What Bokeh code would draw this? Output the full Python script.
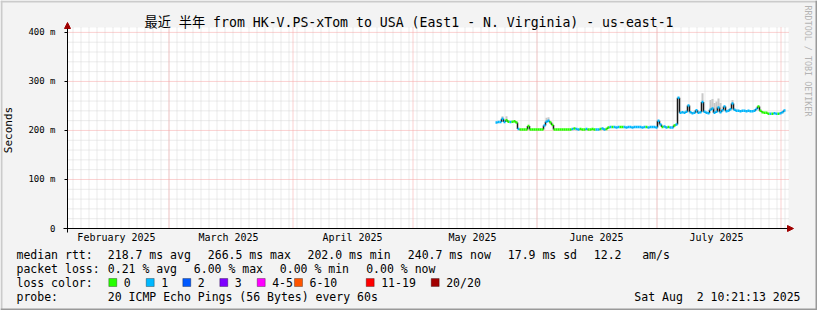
import math
import pandas as pd
from bokeh.plotting import figure
from bokeh.models import (FixedTicker, DatetimeTickFormatter, Label, BoxAnnotation,
                          Arrow, NormalHead, ColumnDataSource, Range1d)
from bokeh.embed import file_html
from bokeh.resources import INLINE

# ---------------- data ----------------
TITLE = "最近 半年 from HK-V.PS-xTom to USA (East1 - N. Virginia) - us-east-1"
series_start = "2025-05-22 00:00"   # first median sample, one sample every 12 h
median_ms = [
    # May 22-31
    216, 217, 217, 224, 217, 221, 218, 217, 218, 219,
    216, 203, 202, 202, 202, 202, 209, 202, 202, 202,
    # Jun 1-10
    202, 202, 202, 202, 210, 218, 220, 216, 211, 202,
    202, 202, 202, 202, 202, 202, 202, 202, 203, 204,
    # Jun 11-20
    203, 202, 203, 202, 202, 203, 202, 202, 203, 202,
    202, 202, 203, 204, 202, 203, 206, 207, 207, 207,
    # Jun 21-30
    206, 207, 207, 207, 207, 206, 207, 207, 206, 207,
    207, 207, 207, 206, 207, 207, 206, 207, 207, 207,
    # Jul 1-10
    206, 220, 212, 207, 208, 206, 207, 206, 206, 210,
    212, 266.5, 236, 237, 236, 238, 251, 237, 235, 236,
    # Jul 11-20
    241, 236, 237, 258, 238, 236, 235, 242, 245, 236,
    238, 247, 237, 241, 249, 239, 240, 243, 255, 242,
    # Jul 21-31
    240, 240, 239, 240, 240, 239, 240, 239, 239, 240,
    244, 249, 240, 237, 236, 236, 234, 234, 234, 235,
    234, 234,
    # Aug 1-2
    235, 237, 240.7,
]
loss_count = [
    1, 1, 1, 1, 1, 0, 0, 1, 0, 0, 0, 1, 0, 0, 0, 0, 0, 0, 0, 0,
    0, 0, 0, 0, 1, 1, 1, 0, 0, 0, 0, 0, 0, 0, 0, 0, 0, 0, 1, 0,
    1, 1, 0, 0, 0, 1, 0, 0, 0, 0, 1, 1, 0, 1, 1, 0, 0, 1, 0, 1,
    1, 1, 0, 0, 1, 1, 1, 1, 1, 1, 1, 1, 1, 1, 1, 0, 1, 1, 1, 1,
    1, 1, 1, 0, 1, 1, 0, 1, 1, 0, 1, 1, 1, 1, 1, 1, 1, 1, 1, 1,
    1, 1, 1, 1, 1, 1, 1, 1, 1, 1, 1, 1, 1, 1, 1, 1, 1, 1, 1, 1,
    1, 1, 1, 1, 1, 1, 1, 1, 1, 1, 1, 0, 0, 0, 0, 0, 0, 1, 0, 1,
    1, 0,
    1, 1, 1,
]
smoke_times = ["2025-05-23 12:00", "2025-05-24 12:00", "2025-06-03 12:00", "2025-06-04 00:00",
               "2025-07-12 12:00", "2025-07-14 12:00", "2025-07-15 00:00", "2025-07-15 12:00",
               "2025-07-16 00:00", "2025-07-16 12:00", "2025-07-17 00:00", "2025-07-20 00:00"]
smoke_top = [229, 229, 226, 227, 276, 262, 264, 256, 259, 265, 256, 262]

plot_start = "2025-02-03 18:00"
plot_end = "2025-08-03 00:00"
y_top = 410
month_starts = ["2025-03-01", "2025-04-01", "2025-05-01", "2025-06-01", "2025-07-01", "2025-08-01"]
month_label_days = ["2025-02-16", "2025-03-16", "2025-04-16", "2025-05-16", "2025-06-16", "2025-07-16"]
y_ticks = [0, 100, 200, 300, 400]
y_tick_labels = ["0", "100 m", "200 m", "300 m", "400 m"]
y_minor_step = 20
x_minor_anchor = "2025-03-01"
x_minor_step_days = 2

loss_labels = ["0", "1", "2", "3", "4-5", "6-10", "11-19", "20/20"]
loss_colors = ["#26ff00", "#00b8ff", "#0059ff", "#7e00ff", "#ff00ff", "#ff5500", "#ff0000", "#a10000"]
rtt_stats = ["218.7 ms avg", "266.5 ms max", "202.0 ms min", "240.7 ms now", "17.9 ms sd", "12.2", "am/s"]
loss_stats = ["0.21 % avg", "6.00 % max", "0.00 % min", "0.00 % now"]
probe_text = "20 ICMP Echo Pings (56 Bytes) every 60s"
stamp_text = "Sat Aug\u00a0\u00a02 10:21:13 2025"
watermark = "RRDTOOL / TOBI OETIKER"

# ---------------- layout constants ----------------
W, H = 817, 310
FL, FR, FT, FB = 67, 788, 27, 228   # plotting-area edges in canvas pixels
MONO = "DejaVu Sans Mono"


def ms(t):
    return pd.Timestamp(t).value / 1e6


# the frame covers the whole canvas; the plotting area is a part of it
t0, t1 = pd.Timestamp(plot_start), pd.Timestamp(plot_end)
span = t1 - t0
px_t = span / (FR - FL)                     # time per pixel
canvas_t0 = t0 - px_t * FL
canvas_t1 = t1 + px_t * (W - FR)
k = (FB - FT) / y_top                       # pixels per ms of rtt
canvas_y0 = -(H - FB) / k
canvas_y1 = y_top + FT / k


# annotation screen units: measured from the canvas bottom-left corner
def X(px):
    return px


def Y(py):
    return H - py


def loss_index(n):
    if n <= 3:
        return n
    if n <= 5:
        return 4
    if n <= 10:
        return 5
    if n <= 19:
        return 6
    return 7


# ---------------- figure ----------------
p = figure(width=W, height=H, x_axis_type="datetime",
           x_range=Range1d(canvas_t0, canvas_t1), y_range=Range1d(canvas_y0, canvas_y1),
           output_backend="svg", toolbar_location=None, min_border=0,
           background_fill_color="#f3f3f3", border_fill_color="#f3f3f3", outline_line_color=None)
p.xgrid.visible = False
p.ygrid.visible = False

# white plotting canvas
p.add_layout(BoxAnnotation(left=ms(t0), right=ms(t1), bottom=0, top=y_top,
                           fill_color="white", fill_alpha=1, line_color=None, level="image"))

# axes, fixed at the plotting area's edges
p.xaxis.fixed_location = 0
p.xaxis.bounds = (ms(t0 - pd.Timedelta(days=1)), ms(t1))
p.xaxis.ticker = FixedTicker(ticks=[ms(d) for d in month_label_days])
p.xaxis.formatter = DatetimeTickFormatter(years="%B %Y", months="%B %Y", days="%B %Y",
                                          hours="%B %Y", minutes="%B %Y")
p.xaxis.major_tick_line_color = None
p.xaxis.minor_tick_line_color = None
p.xaxis.major_tick_out = 0
p.xaxis.major_tick_in = 0
p.xaxis.major_label_standoff = 3
p.xaxis.major_label_text_font = MONO
p.xaxis.major_label_text_font_size = "10px"
p.xaxis.major_label_text_color = "black"
p.xaxis.axis_line_color = "black"

p.yaxis.fixed_location = ms(t0)
p.yaxis.bounds = (-8, y_top)
p.yaxis.ticker = FixedTicker(ticks=y_ticks)
p.yaxis.major_label_overrides = {t: s for t, s in zip(y_ticks, y_tick_labels)}
p.yaxis.major_tick_out = 3
p.yaxis.major_tick_in = 0
p.yaxis.major_tick_line_color = "black"
p.yaxis.minor_tick_line_color = None
p.yaxis.major_label_standoff = 9
p.yaxis.major_label_text_font = MONO
p.yaxis.major_label_text_font_size = "9px"
p.yaxis.major_label_text_color = "black"
p.yaxis.axis_line_color = "black"
p.yaxis.axis_label = "Seconds"
p.yaxis.axis_label_text_font = MONO
p.yaxis.axis_label_text_font_size = "11px"
p.yaxis.axis_label_text_font_style = "normal"
p.yaxis.axis_label_text_color = "black"
p.yaxis.axis_label_standoff = 10

# grid lines limited to the plotting area (vertical ones nudged half a pixel to stay crisp)
anchor = pd.Timestamp(x_minor_anchor)
step = pd.Timedelta(days=x_minor_step_days)
n_back = int((anchor - t0) / step) + 1
x_minor = [anchor + step * i for i in range(-n_back, int((t1 - anchor) / step) + 1)]
x_minor = [t + px_t / 2 for t in x_minor if t0 < t < t1]
y_minor = [v for v in range(y_minor_step, y_top, y_minor_step) if v not in y_ticks]
x_major = [t + px_t / 2 for t in pd.to_datetime(month_starts)]
GRID_MINOR, GRID_MAJOR = "#d6d6d6", "#f7a3a3"
p.segment(x0=x_minor, y0=0, x1=x_minor, y1=y_top, line_color=GRID_MINOR, line_dash="1 1",
          line_width=1, level="underlay")
p.segment(x0=t0, y0=y_minor, x1=t1, y1=y_minor, line_color=GRID_MINOR, line_dash="1 1",
          line_width=1, level="underlay")
p.segment(x0=x_major, y0=0, x1=x_major, y1=y_top, line_color=GRID_MAJOR, line_dash="1 1",
          line_width=1, level="underlay")
p.segment(x0=t0, y0=y_ticks[1:], x1=t1, y1=y_ticks[1:], line_color=GRID_MAJOR, line_dash="1 1",
          line_width=1, level="underlay")

# ---------------- data marks ----------------
times = pd.date_range(series_start, periods=len(median_ms), freq="12h")
half = pd.Timedelta(hours=6)

# smoke
s_t = pd.to_datetime(smoke_times)
s_idx = [int((t - times[0]) / pd.Timedelta(hours=12)) for t in s_t]
smoke = ColumnDataSource(dict(x=s_t, top=smoke_top, bottom=[median_ms[i] for i in s_idx]))
p.vbar(x="x", top="top", bottom="bottom", width=pd.Timedelta(hours=12), source=smoke,
       fill_color="#c8c8c8", line_color=None)

# vertical transitions (dark smoke-like connectors)
vt = ColumnDataSource(dict(x=times[:-1] + half, y0=median_ms[:-1], y1=median_ms[1:]))
p.segment(x0="x", y0="y0", x1="x", y1="y1", source=vt, line_color="#1a1a1a", line_width=1.5)

# coloured median steps
med = ColumnDataSource(dict(x0=times - half, x1=times + half, y=median_ms,
                            c=[loss_colors[loss_index(n)] for n in loss_count]))
p.segment(x0="x0", y0="y", x1="x1", y1="y", source=med, line_color="c", line_width=2.5)


# ---------------- texts ----------------
def lab(px, py, text, size="11.5px", align="left", color="black", angle=0.0, font=MONO):
    p.add_layout(Label(x=X(px), y=Y(py), x_units="screen", y_units="screen", text=text,
                       text_font=font, text_font_size=size, text_align=align,
                       text_baseline="middle", text_color=color, angle=angle))


lab(W / 2, 22, TITLE, size="13.2px", align="center", font=MONO + ", Noto Sans CJK SC")
lab(807, 5, watermark, size="8.4px", color="#b4b4b4", angle=-math.pi / 2)

LINE1, LINE2, LINE3, LINE4 = 254, 268, 282, 296
lab(16, LINE1, "median rtt:")
for x, s in zip([107.3, 207.3, 307.0, 407.3, 507.3, 593.3, 641.7], rtt_stats):
    lab(x, LINE1, s)
lab(16, LINE2, "packet loss:")
for x, s in zip([107.3, 193.3, 279.3, 365.7], loss_stats):
    lab(x, LINE2, s)
lab(16, LINE3, "loss color:")
box_x = [108.3, 145.7, 182.3, 219.3, 256.7, 294.0, 365.7, 430.7]
for bx, s, c in zip(box_x, loss_labels, loss_colors):
    p.add_layout(BoxAnnotation(left=X(bx), right=X(bx + 8), top=Y(LINE3 - 4), bottom=Y(LINE3 + 4),
                               left_units="screen", right_units="screen",
                               top_units="screen", bottom_units="screen",
                               fill_color=c, fill_alpha=1, line_color="black", line_width=1))
    lab(bx + 15, LINE3, s)
lab(16, LINE4, "probe:")
lab(107.3, LINE4, probe_text)
lab(800, LINE4, stamp_text, align="right")

# axis arrows
p.add_layout(Arrow(end=NormalHead(size=6, fill_color="#a00000", line_color="#a00000"),
                   x_start=X(FR - 1), y_start=Y(FB), x_end=X(FR + 5), y_end=Y(FB),
                   start_units="screen", end_units="screen", line_color="black", line_width=1))
p.add_layout(Arrow(end=NormalHead(size=6, fill_color="#a00000", line_color="#a00000"),
                   x_start=X(FL), y_start=Y(FT + 1), x_end=X(FL), y_end=Y(FT - 5),
                   start_units="screen", end_units="screen", line_color="black", line_width=1))

# outer frame shading
for l, r, t, b, c in [(0, W, 0, 2, "#cbcbcb"), (0, 2, 0, H, "#cbcbcb"),
                      (0, W, H - 2, H, "#999999"), (W - 2, W, 0, H, "#999999")]:
    p.add_layout(BoxAnnotation(left=X(l), right=X(r), top=Y(t), bottom=Y(b),
                               left_units="screen", right_units="screen",
                               top_units="screen", bottom_units="screen",
                               fill_color=c, fill_alpha=1, line_color=None))

open("out.html", "w").write(file_html(p, INLINE))
